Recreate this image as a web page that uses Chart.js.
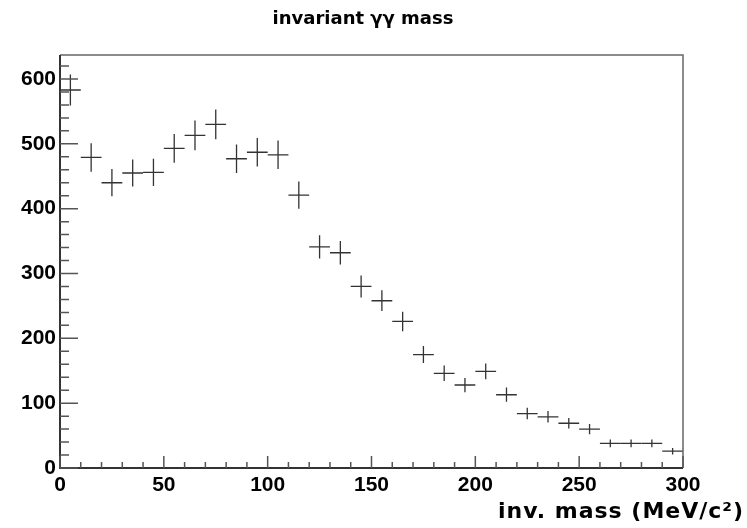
<!DOCTYPE html>
<html>
<head>
<meta charset="utf-8">
<script src="https://cdn.jsdelivr.net/npm/chart.js@4"></script>
<style>
  html, body { margin: 0; padding: 0; background: #fff; }
  #wrap { width: 747px; height: 528px; }
</style>
</head>
<body>
<div id="wrap"><canvas id="grafico"></canvas></div>
<script>
// Datos del histograma (bins de 10 MeV)
const binCentros = [5, 15, 25, 35, 45, 55, 65, 75, 85, 95, 105, 115, 125, 135, 145,
                    155, 165, 175, 185, 195, 205, 215, 225, 235, 245, 255, 265, 275, 285, 295];
const cuentas = [583, 479, 440, 455, 456, 493, 513, 530, 477, 487, 483, 421, 341, 332, 280,
                 258, 226, 175, 146, 128, 149, 113, 84, 79, 69, 60, 38, 38, 38, 26];
const errores = [24, 22, 21, 21, 21, 22, 23, 23, 22, 22, 22, 21, 18, 18, 17,
                 16, 15, 13, 12, 11, 12, 11, 9, 9, 8, 8, 6, 6, 6, 5];
const anchoBin = 10;
const ticksY = [0, 100, 200, 300, 400, 500, 600];
const ticksX = [0, 50, 100, 150, 200, 250, 300];
const tituloGrafico = 'invariant \u03B3\u03B3 mass';
const tituloX = 'inv. mass (MeV/c\u00B2)';

// Plugin: cruces de error, marcas hacia dentro y marco estilo ROOT
const pluginHisto = {
    id: 'pluginHisto',
    afterDraw(chart) {
        const ctx = chart.ctx;
        const x = chart.scales.x;
        const y = chart.scales.y;
        const area = chart.chartArea;
        const datos = chart.data.datasets[0].data;

        ctx.save();
        // Cruces
        ctx.strokeStyle = '#333';
        ctx.lineWidth = 1.3;
        datos.forEach((p, i) => {
            const px = x.getPixelForValue(p.x);
            const py = y.getPixelForValue(p.y);
            ctx.beginPath();
            ctx.moveTo(x.getPixelForValue(p.x - anchoBin / 2), py);
            ctx.lineTo(x.getPixelForValue(p.x + anchoBin / 2), py);
            ctx.moveTo(px, y.getPixelForValue(p.y - errores[i]));
            ctx.lineTo(px, y.getPixelForValue(p.y + errores[i]));
            ctx.stroke();
        });

        // Marco superior y derecho
        ctx.strokeStyle = '#666';
        ctx.lineWidth = 1.5;
        ctx.beginPath();
        ctx.moveTo(area.left, area.top);
        ctx.lineTo(area.right, area.top);
        ctx.lineTo(area.right, area.bottom);
        ctx.stroke();

        // Ejes
        ctx.strokeStyle = '#333';
        ctx.lineWidth = 2;
        ctx.beginPath();
        ctx.moveTo(area.left, area.top);
        ctx.lineTo(area.left, area.bottom);
        ctx.lineTo(area.right, area.bottom);
        ctx.stroke();

        // Marcas del eje Y
        ctx.lineWidth = 1.5;
        ctx.strokeStyle = '#555';
        ctx.beginPath();
        for (let v = 0; v <= y.max; v += 20) {
            const py = y.getPixelForValue(v);
            const largo = v % 100 === 0 ? 18 : 9;
            ctx.moveTo(area.left, py);
            ctx.lineTo(area.left + largo, py);
        }
        // Marcas del eje X
        for (let v = 0; v <= x.max; v += 10) {
            const px = x.getPixelForValue(v);
            const largo = v % 50 === 0 ? 12 : 6;
            ctx.moveTo(px, area.bottom);
            ctx.lineTo(px, area.bottom - largo);
        }
        ctx.stroke();

        // Titulos
        ctx.fillStyle = '#000';
        ctx.textBaseline = 'middle';
        ctx.font = 'bold 18px "DejaVu Sans"';
        ctx.textAlign = 'center';
        ctx.fillText(tituloGrafico, 363, 19);

        ctx.font = 'bold 22px "DejaVu Sans"';
        ctx.letterSpacing = '1px';
        ctx.textAlign = 'right';
        ctx.fillText(tituloX, chart.width - 3, 512);
        ctx.restore();
    }
};

new Chart(document.getElementById('grafico'), {
    type: 'scatter',
    data: {
        datasets: [{
            data: binCentros.map((c, i) => ({ x: c, y: cuentas[i] })),
            pointRadius: 0,
            showLine: false
        }]
    },
    options: {
        responsive: true,
        maintainAspectRatio: false,
        animation: false,
        layout: { padding: { left: 0, right: 64, top: 55, bottom: 0 } },
        plugins: {
            legend: { display: false },
            tooltip: { enabled: false },
            title: { display: false }
        },
        scales: {
            x: {
                type: 'linear',
                min: 0,
                max: 300,
                border: { display: false },
                grid: { display: false, drawTicks: false },
                afterFit: s => { s.height = 60; },
                afterBuildTicks: s => { s.ticks = ticksX.map(v => ({ value: v })); },
                ticks: {
                    padding: 5,
                    maxRotation: 0,
                    color: '#000',
                    font: { family: '"Liberation Sans"', size: 21, weight: 'bold' }
                }
            },
            y: {
                type: 'linear',
                min: 0,
                max: 637,
                border: { display: false },
                grid: { display: false, drawTicks: false },
                afterFit: s => { s.width = 60; },
                afterBuildTicks: s => { s.ticks = ticksY.map(v => ({ value: v })); },
                ticks: {
                    padding: 4,
                    color: '#000',
                    font: { family: '"Liberation Sans"', size: 21, weight: 'bold' }
                }
            }
        }
    },
    plugins: [pluginHisto]
});
</script>
</body>
</html>
